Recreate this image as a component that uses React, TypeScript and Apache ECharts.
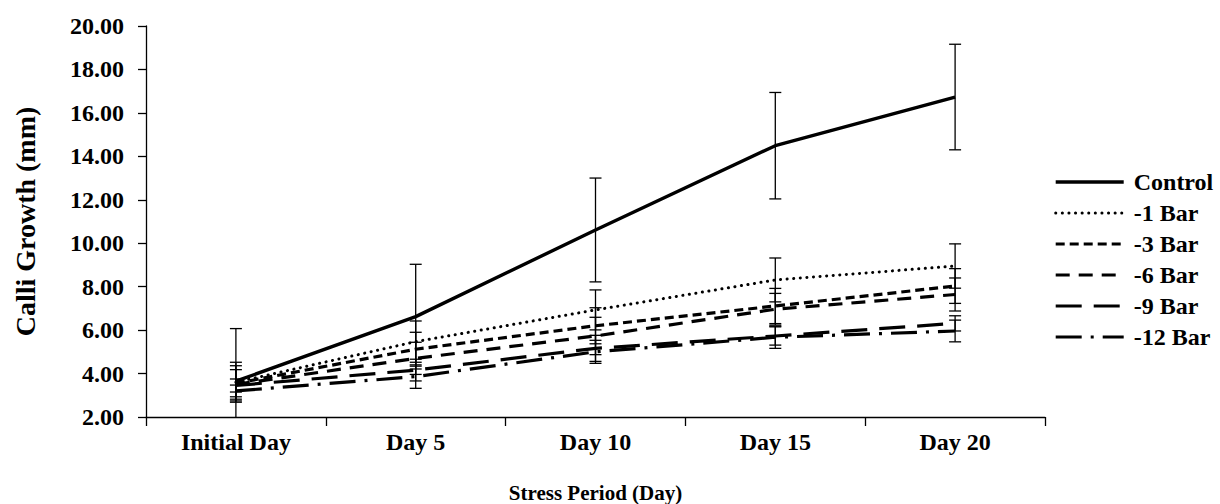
import React, { useEffect, useRef } from "react";
import * as echarts from "echarts";

const categories = ["Initial Day", "Day 5", "Day 10", "Day 15", "Day 20"];
const seriesNames = ["Control", "-1 Bar", "-3 Bar", "-6 Bar", "-9 Bar", "-12 Bar"];

const controlMean = [3.65, 6.62, 10.61, 14.49, 16.73];
const controlSd = [2.42, 2.41, 2.39, 2.45, 2.43];
const bar1Mean = [3.6, 5.47, 6.93, 8.31, 8.95];
const bar1Sd = [0.92, 0.95, 0.92, 1.01, 1.02];
const bar3Mean = [3.55, 5.12, 6.2, 7.11, 8.03];
const bar3Sd = [0.81, 0.78, 0.83, 0.81, 0.8];
const bar6Mean = [3.5, 4.7, 5.73, 6.96, 7.64];
const bar6Sd = [0.68, 0.74, 0.86, 0.73, 0.76];
const bar9Mean = [3.45, 4.16, 5.16, 5.73, 6.31];
const bar9Sd = [0.3, 0.5, 0.6, 0.42, 0.35];
const bar12Mean = [3.2, 3.86, 5.0, 5.67, 5.96];
const bar12Sd = [0.27, 0.54, 0.53, 0.51, 0.5];

const yTicks = { min: 2, max: 20, interval: 2 };

const FONT = "Liberation Serif";

export default function App() {
  const ref = useRef<HTMLDivElement>(null);
  useEffect(() => {
    if (!ref.current) return;
    const chart = echarts.init(ref.current, null, { renderer: "svg" });
    const means = [controlMean, bar1Mean, bar3Mean, bar6Mean, bar9Mean, bar12Mean];
    const sds = [controlSd, bar1Sd, bar3Sd, bar6Sd, bar9Sd, bar12Sd];
    const styles: any[] = [
      { type: "solid", width: 3.4 },
      { type: [0.1, 6.5], width: 3, cap: "round" },
      { type: [9, 5], width: 3.2 },
      { type: [14, 9], width: 3.2 },
      { type: [26, 12], width: 3.2 },
      { type: [26, 9, 3, 9], width: 3.2 },
    ];
    const lineSeries = seriesNames.map((name, i) => ({
      name,
      type: "line",
      data: means[i],
      symbol: "none",
      symbolSize: 0,
      lineStyle: { color: "#000", ...styles[i] },
      itemStyle: { color: "#000" },
      z: 3,
    }));
    const errData: number[][] = [];
    means.forEach((m, i) => {
      m.forEach((v, j) => {
        errData.push([j, v - sds[i][j], v + sds[i][j]]);
      });
    });
    const errSeries = {
      type: "custom",
      name: "err",
      data: errData,
      clip: true,
      encode: { x: 0, y: [1, 2] },
      z: 4,
      renderItem: (params: any, api: any) => {
        const x = api.value(0);
        const top = api.coord([x, api.value(2)]);
        const bot = api.coord([x, api.value(1)]);
        const hw = 6;
        const st = { stroke: "#000", lineWidth: 1.3 };
        return {
          type: "group",
          children: [
            { type: "line", shape: { x1: top[0], y1: top[1], x2: bot[0], y2: bot[1] }, style: st },
            { type: "line", shape: { x1: top[0] - hw, y1: top[1], x2: top[0] + hw, y2: top[1] }, style: st },
            { type: "line", shape: { x1: bot[0] - hw, y1: bot[1], x2: bot[0] + hw, y2: bot[1] }, style: st },
          ],
        };
      },
    };
    chart.setOption({
      animation: false,
      backgroundColor: "#fff",
      grid: { left: 146, right: 175, top: 26, bottom: 87, containLabel: false, outerBoundsMode: "none" },
      legend: {
        data: seriesNames,
        orient: "vertical",
        left: 1054,
        top: 169,
        padding: 0,
        itemWidth: 68,
        itemHeight: 14,
        itemGap: 5,
        itemStyle: { opacity: 0 },
        lineStyle: { width: "inherit" },
        textStyle: { fontFamily: FONT, fontSize: 24, fontWeight: "bold", color: "#000", lineHeight: 26, padding: [0, 0, 0, 5] },
        selectedMode: false,
      },
      xAxis: {
        type: "category",
        data: categories,
        boundaryGap: true,
        name: "Stress Period (Day)",
        nameLocation: "middle",
        nameGap: 65,
        nameTextStyle: { fontFamily: FONT, fontSize: 21, fontWeight: "bold", color: "#000" },
        axisLine: { lineStyle: { color: "#000", width: 1.3 } },
        axisTick: { show: true, alignWithLabel: false, length: 9, lineStyle: { color: "#000", width: 1.3 } },
        axisLabel: { fontFamily: FONT, fontSize: 24, fontWeight: "bold", color: "#000", margin: 13, interval: 0 },
        splitLine: { show: false },
      },
      yAxis: {
        type: "value",
        min: yTicks.min,
        max: yTicks.max,
        interval: yTicks.interval,
        name: "Calli Growth (mm)",
        nameLocation: "middle",
        nameGap: 107,
        nameTextStyle: { fontFamily: FONT, fontSize: 28, fontWeight: "bold", color: "#000" },
        axisLine: { show: true, lineStyle: { color: "#000", width: 1.3 } },
        axisTick: { show: true, length: 8, lineStyle: { color: "#000", width: 1.3 } },
        axisLabel: {
          fontFamily: FONT,
          fontSize: 24,
          fontWeight: "bold",
          color: "#000",
          margin: 22,
          formatter: (v: number) => v.toFixed(2),
        },
        splitLine: { show: false },
      },
      series: [...lineSeries, errSeries],
    });
    return () => chart.dispose();
  }, []);
  return (
    <div
      ref={ref}
      style={{ position: "fixed", left: 0, top: 0, width: 1220, height: 504, background: "#fff" }}
    />
  );
}
